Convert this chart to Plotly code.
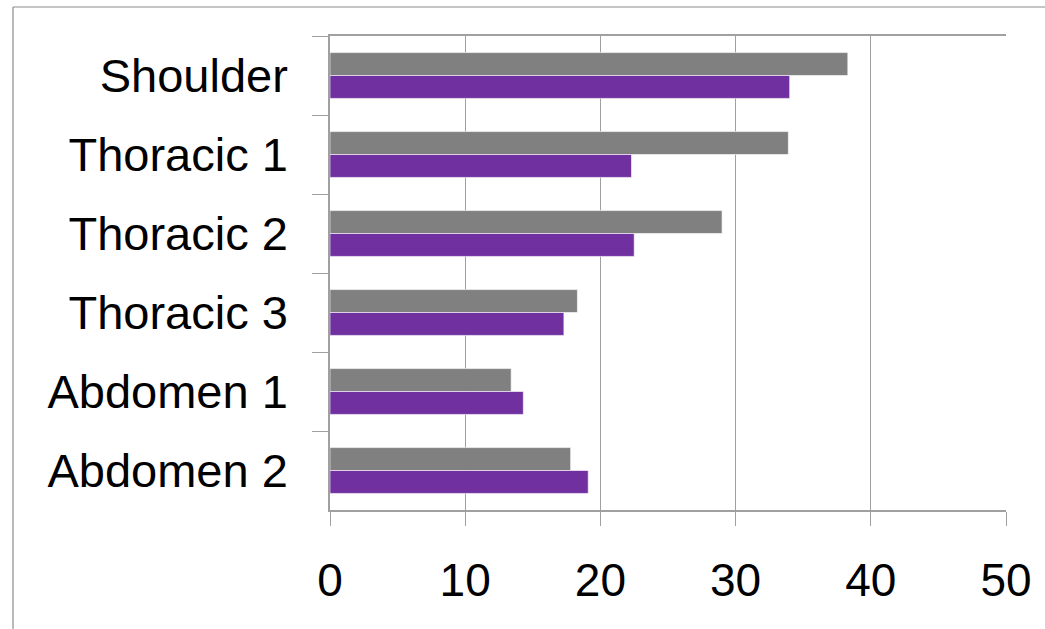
import plotly.graph_objects as go

# Body regions, listed top to bottom
regions = ["Shoulder", "Thoracic 1", "Thoracic 2", "Thoracic 3", "Abdomen 1", "Abdomen 2"]

# Two measurement series per region
series_gray = [38.3, 33.9, 29.0, 18.3, 13.4, 17.8]
series_purple = [34.0, 22.3, 22.5, 17.3, 14.3, 19.1]

x_ticks = [0, 10, 20, 30, 40, 50]

GRID = "#A0A0A0"
FONT = "Liberation Sans, Arial, sans-serif"

fig = go.Figure()
fig.add_trace(go.Bar(
    y=regions, x=series_gray, orientation="h", name="Series 1",
    marker=dict(color="#808080", line=dict(color="rgba(255,255,255,0.6)", width=1)),
))
fig.add_trace(go.Bar(
    y=regions, x=series_purple, orientation="h", name="Series 2",
    marker=dict(color="#7030A0", line=dict(color="rgba(255,255,255,0.6)", width=1)),
))

fig.update_layout(
    width=1045, height=629,
    margin=dict(l=330, r=39, t=36, b=119),
    paper_bgcolor="white", plot_bgcolor="white",
    barmode="group", bargap=0.42, bargroupgap=0,
    showlegend=False,
    font=dict(family=FONT, color="black"),
    shapes=[
        # outer frame, open at the right and bottom edges
        dict(type="line", xref="paper", yref="paper",
             x0=(13 - 330) / 676, x1=(13 - 330) / 676,
             y0=(510 - 7) / 474, y1=-0.4,
             line=dict(color="#8C8C8C", width=1.2)),
        dict(type="line", xref="paper", yref="paper",
             x0=(13 - 330) / 676, x1=1.2,
             y0=(510 - 7) / 474, y1=(510 - 7) / 474,
             line=dict(color="#8C8C8C", width=1.2)),
    ],
)

fig.update_xaxes(
    range=[0, 50], tickvals=x_ticks, ticktext=[str(v) for v in x_ticks],
    showgrid=True, gridcolor=GRID, gridwidth=1,
    showline=True, linecolor=GRID, linewidth=1.5, mirror=True,
    ticks="outside", ticklen=14, tickcolor=GRID, tickwidth=1,
    tickfont=dict(size=46, family=FONT, color="black"),
    ticklabelstandoff=15,
    zeroline=False, fixedrange=True,
)
fig.update_yaxes(
    type="category", autorange="reversed",
    showgrid=False, showline=True, linecolor=GRID, linewidth=1.5,
    ticks="outside", tickson="boundaries", ticklen=16, tickcolor=GRID, tickwidth=1,
    tickfont=dict(size=47, family=FONT, color="black"),
    ticklabelstandoff=31,
    fixedrange=True,
)

fig.write_html("out.html")
